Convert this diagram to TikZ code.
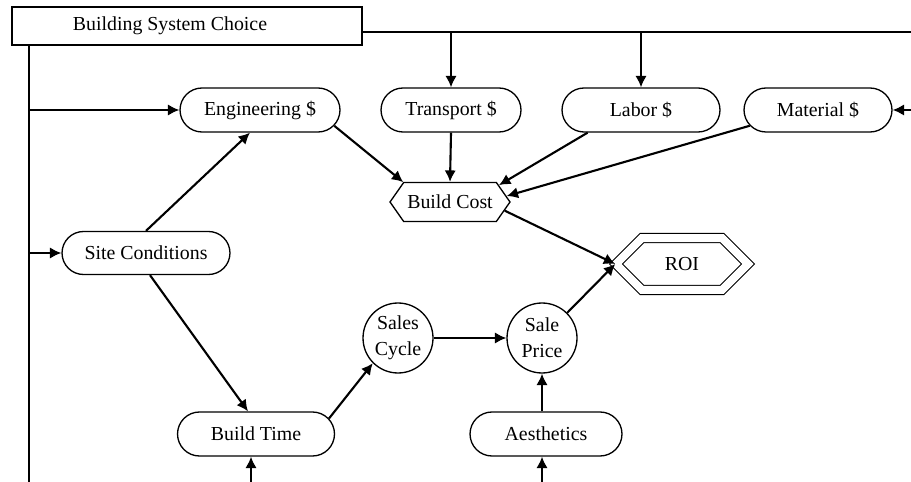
\documentclass[tikz,border=0pt]{standalone}
\usepackage{fontspec}
\setmainfont{Liberation Serif}
\usetikzlibrary{arrows.meta,shapes.misc,shapes.symbols}

\begin{document}
\begin{tikzpicture}[x=0.02cm, y=-0.02cm,
        every node/.style={font=\fontsize{11.3}{13}\selectfont},
        factor/.style={draw, rounded rectangle, line width=0.75pt, minimum height=0.88cm, inner sep=0pt},
        chance/.style={draw, circle, line width=0.75pt, minimum size=1.4cm, inner sep=0pt, align=center,
                       font=\fontsize{11.3}{15}\selectfont},
        link/.style={line width=1.2pt, -{Latex[length=6.5pt,width=6.5pt]}},
        wire/.style={line width=1.2pt}]
        \useasboundingbox (0,0) rectangle (911,482);

        % Decision box
        \node[draw, line width=0.75pt, minimum width=7cm, minimum height=0.76cm, inner sep=0pt] (choice) at (187,26) {Building System Choice\hspace*{0.68cm}};

        % Cost factors
        \node[factor, minimum width=3.2cm] (eng) at (260,110) {Engineering \$};
        \node[factor, minimum width=2.8cm] (trans) at (451,110) {Transport \$};
        \node[factor, minimum width=3.16cm] (labor) at (641,110) {Labor \$};
        \node[factor, minimum width=2.96cm] (mat) at (818,110) {Material \$};
        \node[draw, line width=0.75pt, signal, signal to=west and east, signal pointer angle=110,
              minimum width=2.4cm, minimum height=0.78cm, inner sep=0pt] (cost) at (450,202) {Build Cost};

        % Site, time and sales
        \node[factor, minimum width=3.36cm, minimum height=0.86cm] (site) at (146,253) {Site Conditions};
        \node[factor, minimum width=3.14cm] (time) at (256,434) {Build Time};
        \node[factor, minimum width=3.04cm] (aes) at (546,434) {Aesthetics};
        \node[chance] (cycle) at (398,338) {Sales\\Cycle};
        \node[chance] (price) at (542,338) {Sale\\Price};

        % Value node
        \node[draw, line width=0.6pt, double, double distance=0.16cm, signal, signal to=west and east,
              signal pointer angle=90, minimum width=2.64cm, minimum height=1.04cm, inner sep=0pt] (roi) at (682,264) {ROI};

        % Free ends at the picture edge
        \coordinate (topr) at (911,32);
        \coordinate (leftb) at (29,482);
        \coordinate (matin) at (911,110);
        \coordinate (timein) at (251,482);
        \coordinate (aesin) at (542,482);

        % Lines from the decision
        \draw[wire] (choice.east |- topr) -- (topr);
        \draw[wire] (choice.south -| leftb) -- (leftb);
        \draw[link] (trans.north |- topr) -- (trans.north);
        \draw[link] (labor.north |- topr) -- (labor.north);
        \draw[link] (leftb |- eng.west) -- (eng.west);
        \draw[link] (leftb |- site.west) -- (site.west);

        % Influences
        \draw[link] (matin) -- (mat.east);
        \draw[link] (site.north) -- ([xshift=-0.2cm]eng.south);
        \draw[link] ([xshift=0.08cm]site.south) -- ([xshift=-0.16cm]time.north);
        \draw[link] (eng.-12) -- (cost.157);
        \draw[link] (trans.south) -- (cost.north);
        \draw[link] (labor.203) -- (cost.19);
        \draw[link] (mat.193) -- (cost.6);
        \draw[link] (cost.-9) -- (roi.west);
        \draw[link] (price.45) -- (roi.west);
        \draw[link] (time.12) -- (cycle.225);
        \draw[link] (cycle.east) -- (price.west);
        \draw[link] (price.south |- aes.north) -- (price.south);
        \draw[link] (timein) -- (timein |- time.south);
        \draw[link] (aesin) -- (aesin |- aes.south);
    \end{tikzpicture}
\end{document}
